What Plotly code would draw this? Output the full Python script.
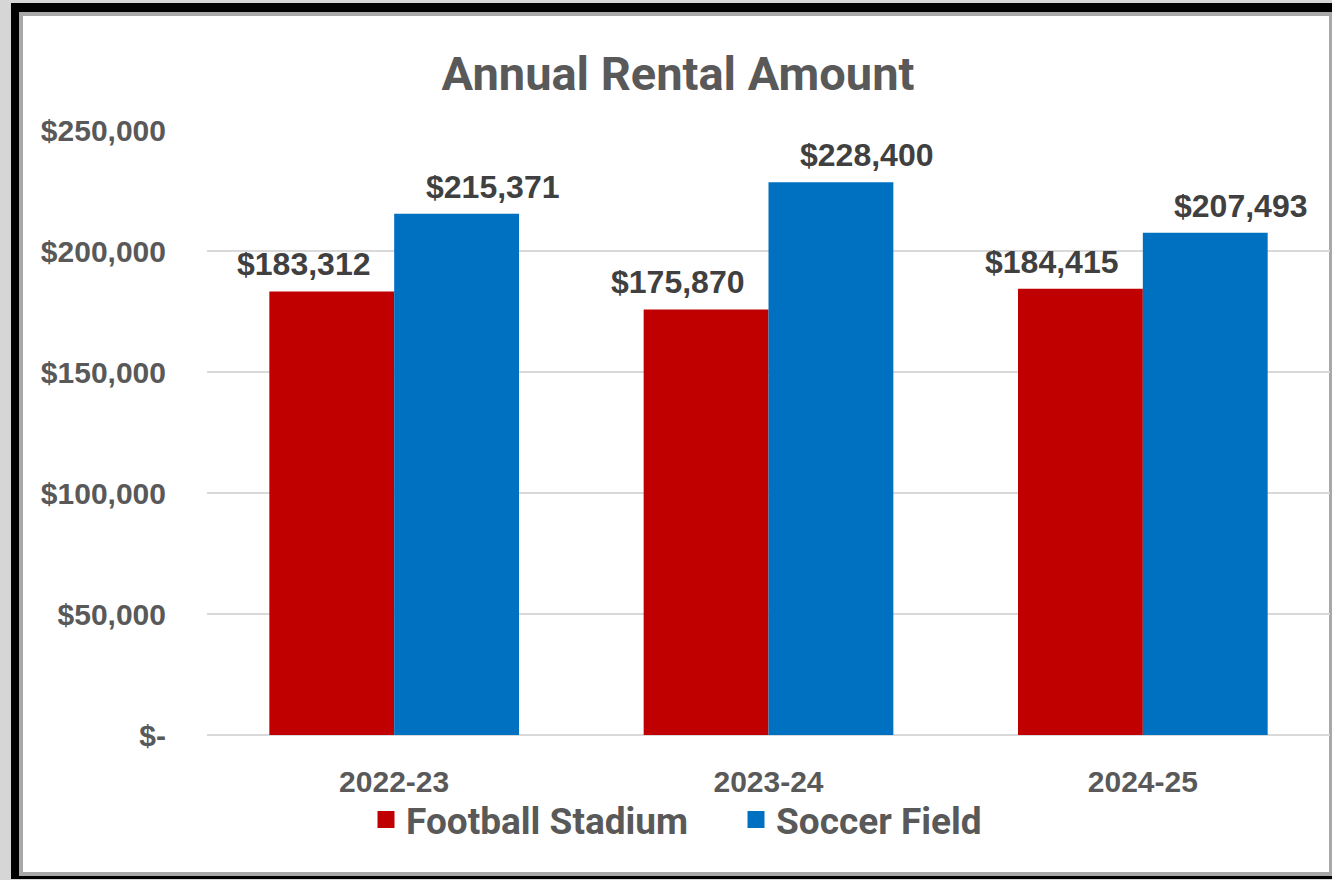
import plotly.graph_objects as go

categories = ["2022-23", "2023-24", "2024-25"]
football = [183312, 175870, 184415]
soccer = [215371, 228400, 207493]
series_names = ["Football Stadium", "Soccer Field"]
series_colors = ["#C00000", "#0070C0"]
tick_vals = [0, 50000, 100000, 150000, 200000, 250000]
tick_text = ["$-", "$50,000", "$100,000", "$150,000", "$200,000", "$250,000"]

W, H = 1332, 880
L, R, T, B = 207, 2, 130, 145
pw, ph = W - L - R, H - T - B

def px(x):
    return (x - L) / pw

def py(y):
    return (H - B - y) / ph

fig = go.Figure()
for name, vals, col in zip(series_names, [football, soccer], series_colors):
    fig.add_trace(go.Bar(name=name, x=categories, y=vals, legendgroup=name,
                         showlegend=False,
                         marker=dict(color=col, line=dict(width=0))))
# legend entries (bigger square keys), on a hidden overlay axis so grouping is unaffected
for name, col in zip(series_names, series_colors):
    fig.add_trace(go.Bar(name=name, x=[None], y=[None], legendgroup=name,
                         showlegend=True, xaxis="x2", yaxis="y2", hoverinfo="skip",
                         marker=dict(color=col, line=dict(width=11, color=col))))

lab_font = dict(family="Liberation Sans, Arial", size=32, color="#404040")
for c, v in zip(categories, football):
    fig.add_annotation(x=c, y=v, xref="x", yref="y", text=f"<b>${v:,}</b>",
                       showarrow=False, yanchor="bottom", xshift=-91, yshift=7,
                       font=lab_font)
for c, v in zip(categories, soccer):
    fig.add_annotation(x=c, y=v, xref="x", yref="y", text=f"<b>${v:,}</b>",
                       showarrow=False, yanchor="bottom", xshift=98, yshift=7,
                       font=lab_font)

# frame
fig.add_shape(type="rect", xref="paper", yref="paper", layer="below",
              x0=px(11), x1=px(1345), y0=py(879), y1=py(3),
              fillcolor="#000000", line=dict(width=0))
fig.add_shape(type="rect", xref="paper", yref="paper", layer="below",
              x0=px(21), x1=px(1331), y0=py(874), y1=py(14),
              fillcolor="#FFFFFF", line=dict(width=4, color="#a8a8a8"))

fig.update_layout(
    width=W, height=H,
    margin=dict(l=L, r=R, t=T, b=B),
    paper_bgcolor="#d6d6d6",
    plot_bgcolor="rgba(0,0,0,0)",
    barmode="group",
    bargap=0.333,
    bargroupgap=0,
    title=dict(text="<b>Annual Rental Amount</b>", x=678 / W, xanchor="center",
               y=1 - 74 / H, yanchor="middle",
               font=dict(family="Roboto", size=47, color="#595959")),
    showlegend=True,
    legend=dict(orientation="h", x=px(736), xanchor="center", y=py(820), yanchor="middle",
                font=dict(family="Roboto", size=37, color="#595959", weight="bold"),
                bgcolor="rgba(0,0,0,0)", itemwidth=30, entrywidth=325,
                traceorder="normal"),
    xaxis=dict(showgrid=False, showline=False, ticks="", ticklabelstandoff=26,
               tickfont=dict(family="Liberation Sans, Arial", size=30, color="#595959"),
               tickvals=categories, ticktext=[f"<b>{c}</b>" for c in categories]),
    yaxis=dict(range=[0, 250000], tickvals=tick_vals,
               ticktext=[f"<b>{t}</b>" for t in tick_text],
               showgrid=True, gridcolor="#d9d9d9", gridwidth=2,
               zeroline=True, zerolinecolor="#d9d9d9", zerolinewidth=2,
               ticklabelstandoff=40, ticks="",
               tickfont=dict(family="Liberation Sans, Arial", size=30, color="#595959")),
    xaxis2=dict(overlaying="x", visible=False),
    yaxis2=dict(overlaying="y", visible=False, range=[0, 1]),
)

fig.write_html("out.html", config={"displayModeBar": False},
               post_script="document.body.style.margin='0';document.body.style.background='#d6d6d6';document.body.style.overflow='hidden';")
